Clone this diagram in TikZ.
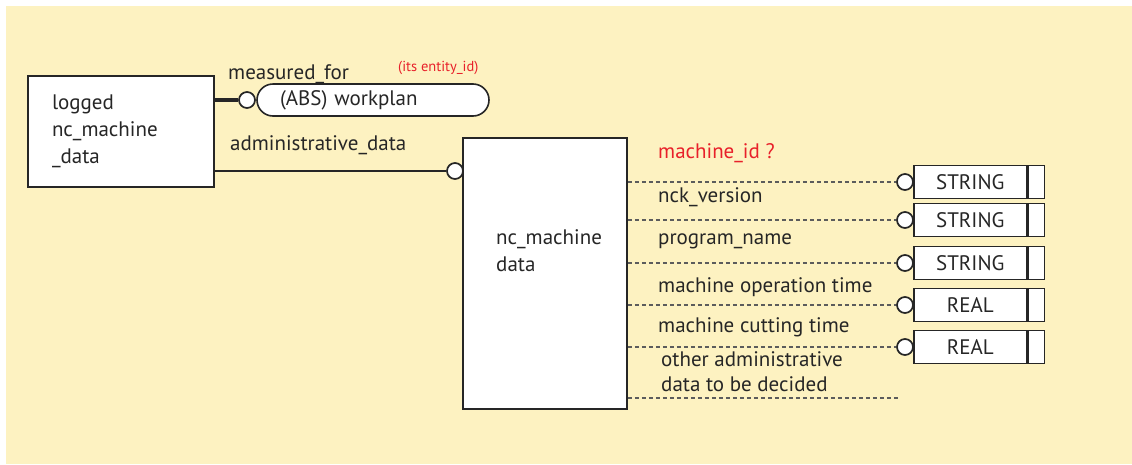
\documentclass[tikz,border=0pt]{standalone}
\usepackage{fontspec}
\setmainfont{PT Sans}
\usetikzlibrary{positioning}
\definecolor{panel}{HTML}{FDF2C1}
\definecolor{note}{HTML}{E8202A}
\definecolor{ink}{HTML}{262626}
\tikzset{
  lbl/.style={font=\fontsize{21}{27}\selectfont, text=ink, inner sep=0pt, anchor=west},
  entbox/.style={draw=ink, fill=white, line width=1.6pt, rectangle},
  ring/.style={circle, draw=ink, fill=white, line width=1.7pt, minimum size=16pt, inner sep=0pt},
  typebox/.style={draw=ink, fill=white, line width=1.6pt, minimum width=113pt, minimum height=33pt,
    inner sep=0pt, font=\fontsize{21}{22}\selectfont, text=ink},
  typecell/.style={draw=ink, fill=white, line width=1.6pt, minimum width=16pt, minimum height=33pt, inner sep=0pt},
  attr/.style={draw=ink!75, line width=1.4pt, dash pattern=on 4pt off 3pt},
  rel/.style={draw=ink, line width=1.5pt},
}
\begin{document}
\begin{tikzpicture}[x=1pt,y=-1pt]
  \useasboundingbox (0,0) rectangle (1132,464);
  \fill[panel] (6,6) rectangle (1132,464);

  % entity: logged nc_machine_data
  \node[entbox, minimum width=186pt, minimum height=111pt, text width=138pt, inner xsep=24pt,
        align=left, font=\fontsize{21}{27}\selectfont, text=ink] (logged) at (121,131.5)
        {logged\\nc\_machine\\\_data};

  % referenced entity: workplan
  \node[entbox, rounded corners=16pt, minimum width=232pt, minimum height=32pt, text width=186pt,
        inner xsep=23pt, inner ysep=0pt, align=left, font=\fontsize{21}{22}\selectfont, text=ink]
        (workplan) at (373,100) {(ABS) workplan};
  \node[ring] (rW) at (247,100) {};
  \draw[ink, line width=4pt] (logged.east |- rW) -- (rW.west);
  \node[lbl] (mfor) at (228,74) {measured\_for};
  \node[lbl, font=\fontsize{14.5}{16}\selectfont, text=note] (eid) at (398,68) {(its entity\_id)};

  % entity: nc_machine data
  \node[entbox, minimum width=164pt, minimum height=271pt] (nc) at (545,273.5) {};
  \node[lbl, align=left] (ncname) at (496,250.5) {nc\_machine\\data};
  \node[ring] (rA) at (455,171) {};
  \draw[rel] (logged.east |- rA) -- (rA.west);
  \node[lbl] (admin) at (230,145) {administrative\_data};

  % attributes with their simple types
  \foreach \i/\y/\t in {1/182/STRING, 2/220/STRING, 3/263/STRING, 4/305/REAL, 5/347/REAL}{
    \node[ring] (r\i) at (905,\y) {};
    \draw[attr] (nc.east |- r\i) -- (r\i.west);
    \node[typebox, anchor=west] (t\i) at (913,\y) {\t};
    \node[typecell, anchor=west] (tx\i) at (t\i.east) {};
  }
  \coordinate (open) at (898,398);
  \draw[attr] (nc.east |- open) -- (open);

  \node[lbl, text=note] (a1) at (658,153) {machine\_id ?};
  \node[lbl] (a2) at (658,197) {nck\_version};
  \node[lbl] (a3) at (658,241) {program\_name};
  \node[lbl] (a4) at (658,287) {machine operation time};
  \node[lbl] (a5) at (658,327) {machine cutting time};
  \node[lbl, align=left, font=\fontsize{21}{25}\selectfont] (a6) at (661,371.5) {other administrative\\data to be decided};
\end{tikzpicture}
\end{document}
